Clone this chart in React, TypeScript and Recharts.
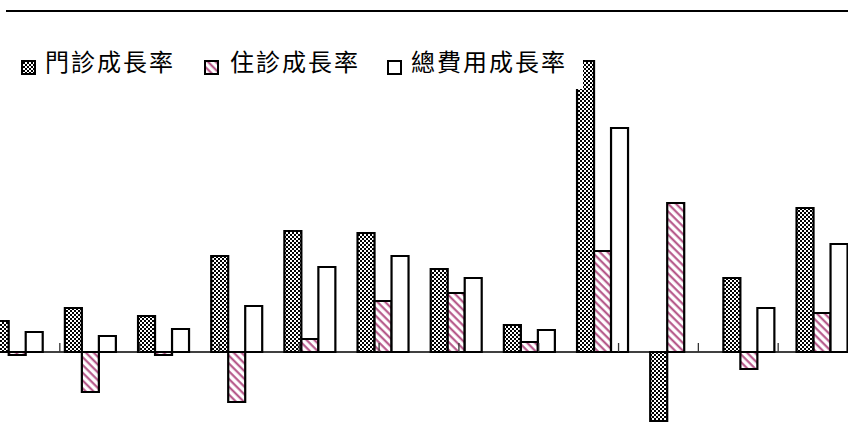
import React from 'react';
import { BarChart, Bar, XAxis, YAxis, ReferenceLine, Legend } from 'recharts';

const categories = ['1', '2', '3', '4', '5', '6', '7', '8', '9', '10', '11', '12'];
const outpatient = [1.55, 2.2, 1.8, 4.8, 6.05, 5.95, 4.15, 1.35, 14.55, -3.45, 3.7, 7.2];
const inpatient = [-0.15, -2.0, -0.15, -2.5, 0.65, 2.55, 2.95, 0.5, 5.05, 7.45, -0.85, 1.95];
const total = [1.0, 0.8, 1.15, 2.3, 4.25, 4.8, 3.7, 1.1, 11.2, null, 2.2, 5.4];
const seriesNames = ['門診成長率', '住診成長率', '總費用成長率'];
const boundaryTicks = [1, 2, 3, 4, 5, 6, 7, 8, 9, 10, 11];

const data = categories.map((c, i) => ({
  name: c,
  outpatient: outpatient[i],
  inpatient: inpatient[i],
  total: total[i],
}));

const FONT = '"Noto Sans CJK TC", "Noto Sans CJK SC", sans-serif';
const fills = ['url(#pOut)', 'url(#pIn)', '#ffffff'];

const Patterns = () => (
  <defs>
    <pattern id="pOut" patternUnits="userSpaceOnUse" width="4" height="4">
      <rect x="0" y="0" width="4" height="4" fill="#ffffff" />
      <rect x="0" y="0" width="2" height="2" fill="#000000" />
      <rect x="2" y="2" width="2" height="2" fill="#000000" />
    </pattern>
    <pattern id="pIn" patternUnits="userSpaceOnUse" width="5.5" height="5.5" patternTransform="rotate(-45)">
      <rect x="0" y="0" width="5.5" height="5.5" fill="#ffffff" />
      <line x1="1.5" y1="0" x2="1.5" y2="5.5" stroke="#b04a80" strokeWidth="2" />
    </pattern>
  </defs>
);

const iconX = [11, 194, 377];
const textX = [35, 220, 401];

const LegendContent = () => (
  <div style={{ position: 'relative', width: 573, height: 46, background: '#fff' }}>
    {seriesNames.map((n, i) => (
      <React.Fragment key={n}>
        <svg
          width={15}
          height={15}
          style={{ position: 'absolute', left: iconX[i], top: 17 }}
        >
          <rect x={1} y={1} width={13} height={13} fill={fills[i]} stroke="#000" strokeWidth={2} />
        </svg>
        <div
          style={{
            position: 'absolute',
            left: textX[i],
            top: 6,
            fontFamily: FONT,
            fontSize: 24,
            lineHeight: '24px',
            letterSpacing: 2,
            whiteSpace: 'nowrap',
            color: '#000',
          }}
        >
          {n}
        </div>
      </React.Fragment>
    ))}
  </div>
);

export default function App() {
  return (
    <div
      style={{
        position: 'absolute',
        left: 0,
        top: 0,
        width: 848,
        height: 441,
        overflow: 'hidden',
        background: '#fff',
      }}
    >
      <div style={{ position: 'absolute', left: 6, top: 10, width: 842, height: 2, background: '#000' }} />
      <div style={{ position: 'absolute', left: -20, top: 0 }}>
        <BarChart
          width={878}
          height={441}
          data={data}
          margin={{ top: 12, right: 0, bottom: 9, left: 0 }}
          barCategoryGap="16%"
          barGap={0}
        >
          <Patterns />
          <XAxis dataKey="name" hide />
          <XAxis xAxisId="num" type="number" domain={[0, 12]} hide allowDataOverflow />
          <YAxis domain={[-4, 17]} hide allowDataOverflow />
          <ReferenceLine y={0} xAxisId="num" stroke="#000" strokeWidth={1.5} />
          {boundaryTicks.map((t) => (
            <ReferenceLine
              key={t}
              xAxisId="num"
              segment={[
                { x: t, y: 0 },
                { x: t, y: 0.45 },
              ]}
              stroke="#333"
              strokeWidth={1.3}
            />
          ))}
          <Bar dataKey="outpatient" name={seriesNames[0]} fill="url(#pOut)" stroke="#000" strokeWidth={2.2} isAnimationActive={false} />
          <Bar dataKey="inpatient" name={seriesNames[1]} fill="url(#pIn)" stroke="#000" strokeWidth={2.2} isAnimationActive={false} />
          <Bar dataKey="total" name={seriesNames[2]} fill="#ffffff" stroke="#000" strokeWidth={2.2} isAnimationActive={false} />
          <Legend
            layout="horizontal"
            verticalAlign="middle"
            align="center"
            wrapperStyle={{ left: 30, top: 43, width: 573, height: 46, background: '#fff' }}
            content={() => <LegendContent />}
          />
        </BarChart>
      </div>
    </div>
  );
}
